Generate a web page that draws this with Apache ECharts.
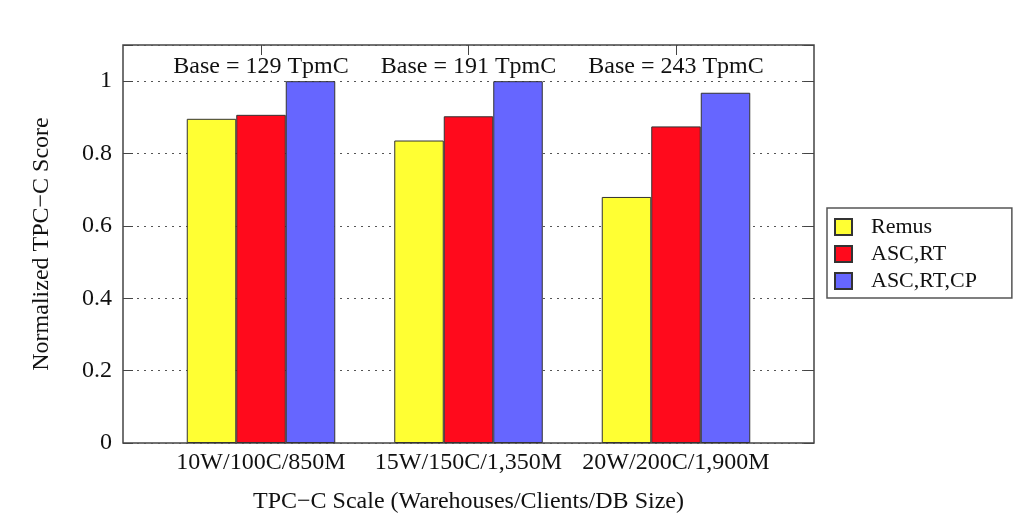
<!DOCTYPE html>
<html><head><meta charset="utf-8">
<script src="https://cdn.jsdelivr.net/npm/echarts@6/dist/echarts.min.js"></script>
<style>html,body{margin:0;padding:0;background:#fff}#c{width:1025px;height:527px}</style>
</head><body><div id="c"></div>
<script>
const categories = ['10W/100C/850M', '15W/150C/1,350M', '20W/200C/1,900M'];
const baseLabels = ['Base = 129 TpmC', 'Base = 191 TpmC', 'Base = 243 TpmC'];
const remus = [0.896, 0.836, 0.680];
const ascRt = [0.907, 0.903, 0.875];
const ascRtCp = [1.0, 1.0, 0.968];
const yTicks = [0, 0.2, 0.4, 0.6, 0.8, 1];

const FONT = 'Liberation Serif';
const chart = echarts.init(document.getElementById('c'));
const frame = {left: 123, right: 211, top: 45, bottom: 84};
const barsGrid = {left: 157.25, right: 245.25, top: 45, bottom: 84};
const yCommon = {type: 'value', min: 0, max: 1.1, interval: 0.2};
function mk(name, data, color) {
  return {name, type: 'bar', xAxisIndex: 1, yAxisIndex: 2, data, barWidth: 49.5, barGap: '0%',
    itemStyle: {color, borderColor: '#333', borderWidth: 1}, z: 3};
}
chart.setOption({
  animation: false,
  textStyle: {fontFamily: FONT},
  grid: [
    Object.assign({show: true, borderColor: '#444', borderWidth: 1.5, backgroundColor: 'transparent'}, frame),
    barsGrid
  ],
  legend: {
    orient: 'vertical', left: 827, top: 208, itemWidth: 17, itemHeight: 16, itemGap: 5, icon: 'rect',
    padding: [8, 35, 6, 7], borderColor: '#555', borderWidth: 1.5,
    textStyle: {fontFamily: FONT, fontSize: 22, color: '#111', padding: [0, 0, 0, 14]},
    data: ['Remus', 'ASC,RT', 'ASC,RT,CP']
  },
  xAxis: [
    {type: 'category', gridIndex: 0, data: categories, axisLine: {show: false}, axisTick: {show: false},
     axisLabel: {show: false}, name: 'TPC\u2212C Scale (Warehouses/Clients/DB Size)', nameLocation: 'middle', nameGap: 47,
     nameTextStyle: {fontFamily: FONT, fontSize: 24, color: '#111'}},
    {type: 'category', gridIndex: 1, data: categories, position: 'bottom', axisLine: {show: false},
     axisTick: {show: true, inside: true, alignWithLabel: true, interval: 0, length: 10, lineStyle: {color: '#444'}},
     axisLabel: {interval: 0, hideOverlap: false, fontFamily: FONT, fontSize: 24, color: '#111', margin: 8}},
    {type: 'category', gridIndex: 1, data: categories, position: 'top', axisLine: {show: false},
     axisTick: {show: true, inside: true, alignWithLabel: true, interval: 0, length: 10, lineStyle: {color: '#444'}},
     axisLabel: {inside: true, interval: 0, hideOverlap: false, margin: 10, fontFamily: FONT, fontSize: 24, color: '#111',
       formatter: (v, i) => baseLabels[i]}}
  ],
  yAxis: [
    Object.assign({gridIndex: 0, position: 'left', axisLine: {show: false},
     axisTick: {show: true, inside: true, length: 10, lineStyle: {color: '#444'}},
     axisLabel: {fontFamily: FONT, fontSize: 24, color: '#111', margin: 11,
       formatter: v => yTicks.some(t => Math.abs(t - v) < 1e-6) ? String(+v.toFixed(1)) : ''},
     splitLine: {show: true, lineStyle: {color: '#555', type: [2, 5], width: 1}},
     name: 'Normalized TPC\u2212C Score', nameLocation: 'middle', nameGap: 69,
     nameTextStyle: {fontFamily: FONT, fontSize: 24, color: '#111'}}, yCommon),
    Object.assign({gridIndex: 0, position: 'right', axisLine: {show: false},
     axisTick: {show: true, inside: true, length: 10, lineStyle: {color: '#444'}},
     axisLabel: {show: false}, splitLine: {show: false}}, yCommon),
    Object.assign({gridIndex: 1, show: false, splitLine: {show: false}}, yCommon)
  ],
  series: [
    mk('Remus', remus, '#ffff33'),
    mk('ASC,RT', ascRt, '#ff0a1c'),
    mk('ASC,RT,CP', ascRtCp, '#6666ff')
  ]
});
</script></body></html>
